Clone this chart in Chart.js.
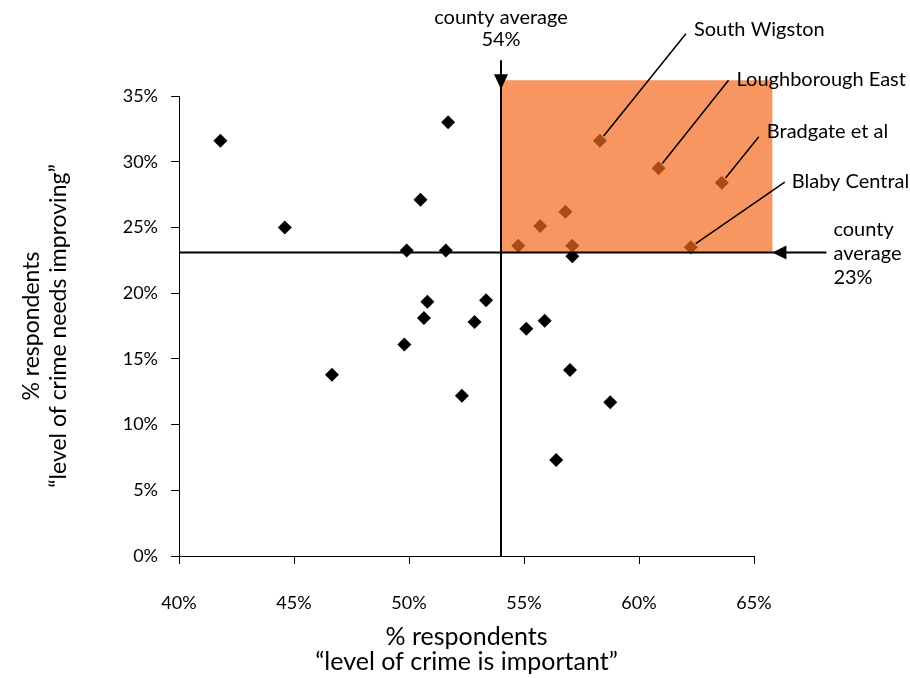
<!DOCTYPE html>
<html>
<head>
<meta charset="utf-8">
<script src="https://cdn.jsdelivr.net/npm/chart.js@4.4.1/dist/chart.umd.min.js"></script>
<style>
  html, body { margin: 0; padding: 0; background: #fff; }
  #chart { display: block; }
</style>
</head>
<body>
<canvas id="chart" width="910" height="678"></canvas>
<script>
// areas: % saying level of crime is important (x) vs needs improving (y)
const areaImportant = [41.8, 44.6, 51.7, 50.5, 49.9, 51.6, 50.8, 53.35, 50.65, 52.85, 49.8, 46.65, 52.3, 55.1, 55.9, 57.0, 58.75, 56.4, 57.1, 54.75, 55.7, 56.8, 57.1];
const areaImproving = [31.6, 25.0, 33.0, 27.1, 23.25, 23.25, 19.35, 19.45, 18.1, 17.8, 16.1, 13.8, 12.2, 17.3, 17.9, 14.15, 11.7, 7.3, 22.8, 23.6, 25.1, 26.2, 23.6];

// named areas with a callout
const calloutNames = ['South Wigston', 'Loughborough East', 'Bradgate et al', 'Blaby Central'];
const calloutImportant = [58.3, 60.85, 63.6, 62.25];
const calloutImproving = [31.6, 29.5, 28.4, 23.5];

// county averages
const countyImportant = 54;
const countyImproving = 23.1;
const countyLabelX = ['county average', '54%'];
const countyLabelY = ['county', 'average', '23%'];

// shaded "priority" zone upper corner
const zoneMaxX = 65.8;
const zoneMaxY = 36.2;

const xTicks = [40, 45, 50, 55, 60, 65];
const yTicks = [0, 5, 10, 15, 20, 25, 30, 35];

const FONT = 'Lato, "Open Sans", sans-serif';

// where each callout label sits, relative to its point (px)
const calloutOffsets = [
  { lx: 86, ly: -107, tx: 94, ty: -111 },
  { lx: 70, ly: -88, tx: 78, ty: -89 },
  { lx: 37, ly: -46, tx: 45, ty: -51 },
  { lx: 94, ly: -65, tx: 101, ty: -66 }
];

const points = areaImportant.map((v, i) => ({ x: v, y: areaImproving[i] }));
calloutNames.forEach((n, i) => points.push({ x: calloutImportant[i], y: calloutImproving[i] }));

// draw zone, average lines, arrows and labels on top of the points
const annotations = {
  id: 'annotations',
  afterDatasetsDraw(chart) {
    const ctx = chart.ctx;
    const xs = chart.scales.x, ys = chart.scales.y;
    const ax = xs.getPixelForValue(countyImportant);
    const ay = ys.getPixelForValue(countyImproving);
    const zx = xs.getPixelForValue(zoneMaxX);
    const zy = ys.getPixelForValue(zoneMaxY);
    ctx.save();

    ctx.fillStyle = 'rgba(245,105,30,0.7)';
    ctx.fillRect(ax, zy, zx - ax, ay - zy);

    ctx.strokeStyle = '#000';
    ctx.lineWidth = 2;
    ctx.beginPath();
    ctx.moveTo(ax, ys.bottom); ctx.lineTo(ax, zy - 20);
    ctx.moveTo(xs.left, ay); ctx.lineTo(zx + 54, ay);
    ctx.stroke();

    ctx.fillStyle = '#000';
    ctx.beginPath();
    ctx.moveTo(ax, zy + 9); ctx.lineTo(ax - 7, zy - 6); ctx.lineTo(ax + 7, zy - 6); ctx.closePath();
    ctx.moveTo(zx, ay); ctx.lineTo(zx + 14, ay - 7); ctx.lineTo(zx + 14, ay + 7); ctx.closePath();
    ctx.fill();

    ctx.font = '20px ' + FONT;
    ctx.textBaseline = 'middle';
    ctx.textAlign = 'center';
    ctx.fillText(countyLabelX[0], ax, 18);
    ctx.fillText(countyLabelX[1], ax, 40);
    ctx.textAlign = 'left';
    countyLabelY.forEach((t, i) => ctx.fillText(t, zx + 61, ay - 23 + i * 24));

    ctx.lineWidth = 1.5;
    calloutNames.forEach((name, i) => {
      const px = xs.getPixelForValue(calloutImportant[i]);
      const py = ys.getPixelForValue(calloutImproving[i]);
      const o = calloutOffsets[i];
      const len = Math.hypot(o.lx, o.ly);
      ctx.beginPath();
      ctx.moveTo(px + o.lx / len * 6, py + o.ly / len * 6);
      ctx.lineTo(px + o.lx, py + o.ly);
      ctx.stroke();
      ctx.fillText(name, px + o.tx, py + o.ty);
    });
    ctx.restore();
  }
};

new Chart(document.getElementById('chart'), {
  type: 'scatter',
  data: {
    datasets: [{
      data: points,
      pointStyle: 'rectRot',
      pointRadius: 7,
      pointHoverRadius: 7,
      backgroundColor: '#000',
      borderWidth: 0
    }]
  },
  options: {
    responsive: false,
    animation: false,
    devicePixelRatio: 1,
    layout: { padding: { top: 96, right: 156, left: 0, bottom: 0 } },
    plugins: { legend: { display: false }, tooltip: { enabled: false } },
    scales: {
      x: {
        type: 'linear',
        min: xTicks[0],
        max: xTicks[xTicks.length - 1],
        afterFit: s => { s.height = 122; },
        afterBuildTicks: s => { s.ticks = xTicks.map(v => ({ value: v })); },
        ticks: {
          callback: v => v + '%',
          color: '#000',
          padding: 28,
          maxRotation: 0,
          font: { family: FONT, size: 18 }
        },
        grid: { drawOnChartArea: false, drawTicks: true, tickLength: 8, tickColor: '#000' },
        border: { color: '#000', width: 1 },
        title: {
          display: true,
          text: ['% respondents', '\u201clevel of crime is important\u201d'],
          color: '#000',
          padding: { top: 0, bottom: 4 },
          font: { family: FONT, size: 25, lineHeight: 1.0 }
        }
      },
      y: {
        type: 'linear',
        min: yTicks[0],
        max: yTicks[yTicks.length - 1],
        afterFit: s => { s.width = 179; },
        afterBuildTicks: s => { s.ticks = yTicks.map(v => ({ value: v })); },
        ticks: {
          callback: v => v + '%',
          color: '#000',
          padding: 13,
          font: { family: FONT, size: 18 }
        },
        grid: { drawOnChartArea: false, drawTicks: true, tickLength: 8, tickColor: '#000' },
        border: { color: '#000', width: 1 },
        title: {
          display: true,
          text: ['% respondents', '\u201clevel of crime needs improving\u201d'],
          color: '#000',
          padding: { top: 18, bottom: 0 },
          font: { family: FONT, size: 23, lineHeight: 1.17 }
        }
      }
    }
  },
  plugins: [annotations]
});
</script>
</body>
</html>
